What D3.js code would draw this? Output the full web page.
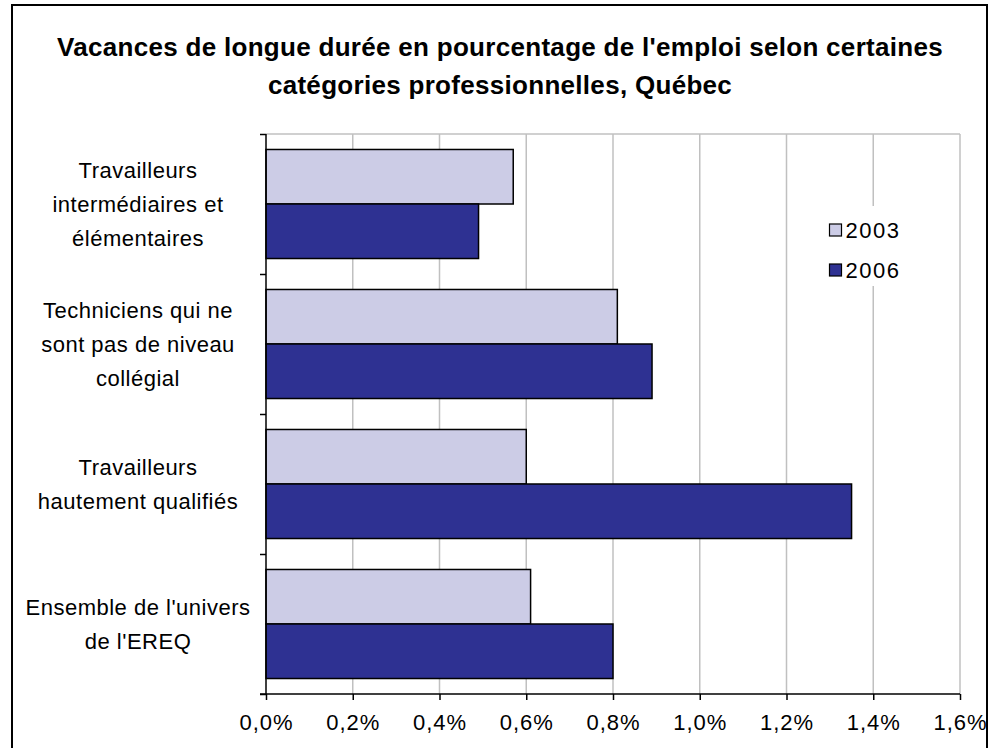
<!DOCTYPE html>
<html>
<head>
<meta charset="utf-8">
<script src="https://cdn.jsdelivr.net/npm/d3@7"></script>
<style>
  body { margin: 0; background: #fff; }
  text { font-family: 'Liberation Sans', Arial, sans-serif; fill: #000; }
</style>
</head>
<body>
<svg id="chart"></svg>
<script>
// values, in percent
const categories = [
    ['Travailleurs', 'intermédiaires et', 'élémentaires'],
    ['Techniciens qui ne', 'sont pas de niveau', 'collégial'],
    ['Travailleurs', 'hautement qualifiés'],
    ['Ensemble de l\'univers', 'de l\'EREQ'],
];
const years = ['2003', '2006'];
const values2003 = [0.57, 0.81, 0.60, 0.61];
const values2006 = [0.49, 0.89, 1.35, 0.80];
const xTicks = [0, 0.2, 0.4, 0.6, 0.8, 1.0, 1.2, 1.4, 1.6];
const titleLines = [
    'Vacances de longue durée en pourcentage de l\'emploi selon certaines',
    'catégories professionnelles, Québec',
];

const width = 999;
const height = 748;
const margin = { top: 134, right: 39, bottom: 54, left: 266 };
const innerW = width - margin.left - margin.right;
const innerH = height - margin.top - margin.bottom;

const lightBlue = '#cccce6';
const darkBlue = '#2e3192';
const gridGray = '#c0c0c0';

const svg = d3.select('#chart')
    .attr('width', width)
    .attr('height', height);

// outer frame
svg.append('rect')
    .attr('x', 12)
    .attr('y', 5)
    .attr('width', 975)
    .attr('height', 760)
    .attr('fill', 'none')
    .attr('stroke', '#000')
    .attr('stroke-width', 2);

svg.append('g')
    .attr('class', 'title')
    .selectAll('text')
    .data(titleLines)
    .enter()
    .append('text')
    .attr('x', 500)
    .attr('y', (d, i) => 56 + i * 38)
    .attr('text-anchor', 'middle')
    .style('font-size', '26px')
    .style('font-weight', 'bold')
    .style('letter-spacing', '0.3px')
    .text((d) => d);

const g = svg.append('g')
    .attr('transform', `translate(${margin.left}, ${margin.top})`);

const xScale = d3.scaleLinear().domain([0, 1.6]).range([0, innerW]);
const yScale = d3.scaleBand().domain(d3.range(categories.length)).range([0, innerH]);
const ySub = d3.scaleBand().domain(years).range([0, yScale.bandwidth()]).paddingOuter(0.284);

// gridlines
g.append('g')
    .attr('class', 'grid')
    .selectAll('line')
    .data(xTicks.slice(1))
    .enter()
    .append('line')
    .attr('x1', xScale)
    .attr('x2', xScale)
    .attr('y1', 0)
    .attr('y2', innerH)
    .attr('stroke', gridGray)
    .attr('stroke-width', 1.5);

g.append('line')
    .attr('x1', 0)
    .attr('x2', innerW)
    .attr('y1', 0)
    .attr('y2', 0)
    .attr('stroke', gridGray)
    .attr('stroke-width', 1.5);

// legend background hides the gridlines behind it
const legend = g.append('g')
    .attr('class', 'legend')
    .attr('transform', `translate(${xScale(1.2) + 14}, 72)`);

legend.append('rect')
    .attr('width', 150)
    .attr('height', 80)
    .attr('fill', '#fff');

const series = [
    { year: years[0], values: values2003, color: lightBlue },
    { year: years[1], values: values2006, color: darkBlue },
];

const legendItem = legend.selectAll('.item')
    .data(series)
    .enter()
    .append('g')
    .attr('class', 'item')
    .attr('transform', (d, i) => `translate(29, ${24 + i * 40})`);

legendItem.append('rect')
    .attr('x', 0)
    .attr('y', -6)
    .attr('width', 12)
    .attr('height', 12)
    .attr('fill', (d) => d.color)
    .attr('stroke', '#000')
    .attr('stroke-width', 1.2);

legendItem.append('text')
    .attr('x', 16)
    .attr('y', 8)
    .style('font-size', '22px')
    .style('letter-spacing', '1.5px')
    .text((d) => d.year);

// bars
series.forEach((s) => {
    g.append('g')
        .attr('class', 'bars')
        .selectAll('rect')
        .data(s.values)
        .enter()
        .append('rect')
        .attr('x', xScale(0))
        .attr('y', (d, i) => yScale(i) + ySub(s.year))
        .attr('width', (d) => xScale(d) - xScale(0))
        .attr('height', ySub.bandwidth())
        .attr('fill', s.color)
        .attr('stroke', '#000')
        .attr('stroke-width', 1.5);
});

// x axis
const xAxis = d3.axisBottom(xScale)
    .tickValues(xTicks)
    .tickSize(6)
    .tickPadding(14)
    .tickFormat((d) => d3.format('.1f')(d).replace('.', ',') + '%');

g.append('g')
    .attr('class', 'x axis')
    .attr('transform', `translate(0, ${innerH})`)
    .call(xAxis)
    .call((a) => a.select('.domain').attr('stroke', '#000').attr('stroke-width', 1.5).attr('d', `M-6,0H${innerW}`))
    .call((a) => a.selectAll('.tick line').attr('stroke-width', 1.5))
    .call((a) => a.selectAll('.tick text')
        .style('font-size', '22px')
        .style('letter-spacing', '1px')
        .style('font-family', '\'Liberation Sans\', Arial, sans-serif')
        .attr('fill', '#000'));

// y axis: ticks at the category boundaries
const yAxis = d3.axisLeft(d3.scaleLinear().domain([0, categories.length]).range([0, innerH]))
    .ticks(categories.length)
    .tickSize(6)
    .tickFormat('');

g.append('g')
    .attr('class', 'y axis')
    .call(yAxis)
    .call((a) => a.select('.domain').attr('stroke', '#000').attr('stroke-width', 1.5).attr('d', `M0,0V${innerH}`))
    .call((a) => a.selectAll('.tick line').attr('stroke-width', 1.5));

// category labels
const lineH = 34;
g.append('g')
    .attr('class', 'cat-labels')
    .selectAll('text')
    .data(categories)
    .enter()
    .append('text')
    .attr('text-anchor', 'middle')
    .style('font-size', '22px')
    .style('letter-spacing', '0.5px')
    .each(function (lines, i) {
        const cy = yScale(i) + yScale.bandwidth() / 2;
        d3.select(this).selectAll('tspan')
            .data(lines)
            .enter()
            .append('tspan')
            .attr('x', 138 - margin.left)
            .attr('y', (d, j) => cy + (j - (lines.length - 1) / 2) * lineH + 8)
            .text((d) => d);
    });
</script>
</body>
</html>
